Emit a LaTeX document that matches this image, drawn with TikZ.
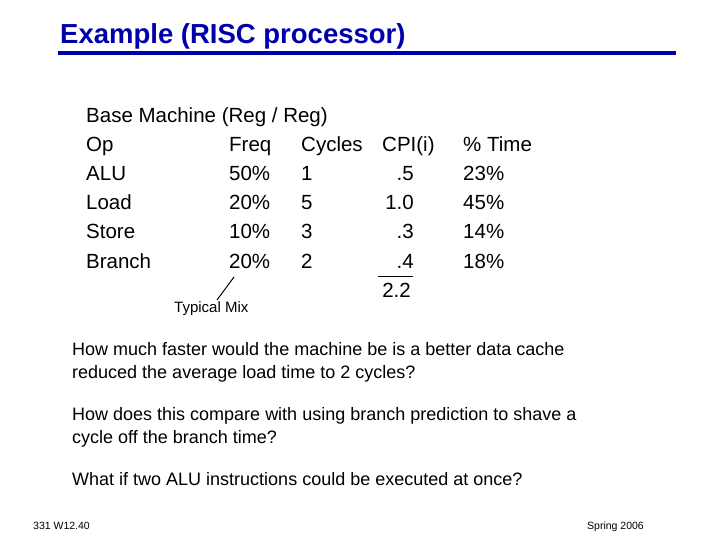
\documentclass[tikz,border=0pt]{standalone}
\usepackage{fontspec}
\setmainfont{Liberation Sans}
\definecolor{ttl}{RGB}{0,0,170}
\begin{document}
\begin{tikzpicture}[x=1pt,y=-1pt,
  t/.style={anchor=base west,inner sep=0,font=\fontsize{20.5}{24}\selectfont},
  r/.style={anchor=base east,inner sep=0,font=\fontsize{20.5}{24}\selectfont},
  q/.style={anchor=base west,inner sep=0,font=\fontsize{18}{23}\selectfont}]
\useasboundingbox (0,0) rectangle (720,540);
\node[anchor=base west,inner sep=0,text=ttl,font=\bfseries\fontsize{27.5}{30}\selectfont] (title) at (60,44) {Example (RISC processor)};
\draw[ttl,line width=3.5pt] (58,53) -- (676,53);
\node[t] (h) at (86,123) {Base Machine (Reg / Reg)};
\node[t] (a1) at (86,152) {Op};
\node[t] (a2) at (229,152) {Freq};
\node[t] (a3) at (301,152) {Cycles};
\node[t] (a4) at (382,152) {CPI(i)};
\node[t] (a5) at (463,152) {\% Time};
\node[t] (b1) at (86,181) {ALU};
\node[t] (b2) at (229,181) {50\%};
\node[t] (b3) at (301,181) {1};
\node[r] (b4) at (414,181) {.5};
\node[t] (b5) at (463,181) {23\%};
\node[t] (c1) at (86,210) {Load};
\node[t] (c2) at (229,210) {20\%};
\node[t] (c3) at (301,210) {5};
\node[r] (c4) at (414,210) {1.0};
\node[t] (c5) at (463,210) {45\%};
\node[t] (d1) at (86,239) {Store};
\node[t] (d2) at (229,239) {10\%};
\node[t] (d3) at (301,239) {3};
\node[r] (d4) at (414,239) {.3};
\node[t] (d5) at (463,239) {14\%};
\node[t] (e1) at (86,268) {Branch};
\node[t] (e2) at (229,268) {20\%};
\node[t] (e3) at (301,268) {2};
\node[r] (e4) at (414,268) {.4};
\node[t] (e5) at (463,268) {18\%};
\node[r] (tot) at (411,297) {2.2};
\coordinate (s1) at (378,276); \coordinate (s2) at (413,276);
\draw[line width=1pt] (s1) -- (s2);
\node[anchor=base west,inner sep=0,font=\fontsize{15}{17}\selectfont] (mix) at (174,312) {Typical Mix};
\coordinate (m1) at (234,277); \coordinate (m2) at (217,300);
\draw[line width=1pt] (m1) -- (m2);
\node[q] (q1a) at (72,355) {How much faster would the machine be is a better data cache};
\node[q] (q1b) at (72,378) {reduced the average load time to 2 cycles?};
\node[q] (q2a) at (72,420) {How does this compare with using branch prediction to shave a};
\node[q] (q2b) at (72,443) {cycle off the branch time?};
\node[q] (q3) at (72,485) {What if two ALU instructions could be executed at once?};
\node[anchor=base west,inner sep=0,font=\fontsize{10.5}{12}\selectfont] (f1) at (33,529) {331  W12.40};
\node[anchor=base east,inner sep=0,font=\fontsize{10.5}{12}\selectfont] (f2) at (644,529) {Spring 2006};
\end{tikzpicture}
\end{document}
